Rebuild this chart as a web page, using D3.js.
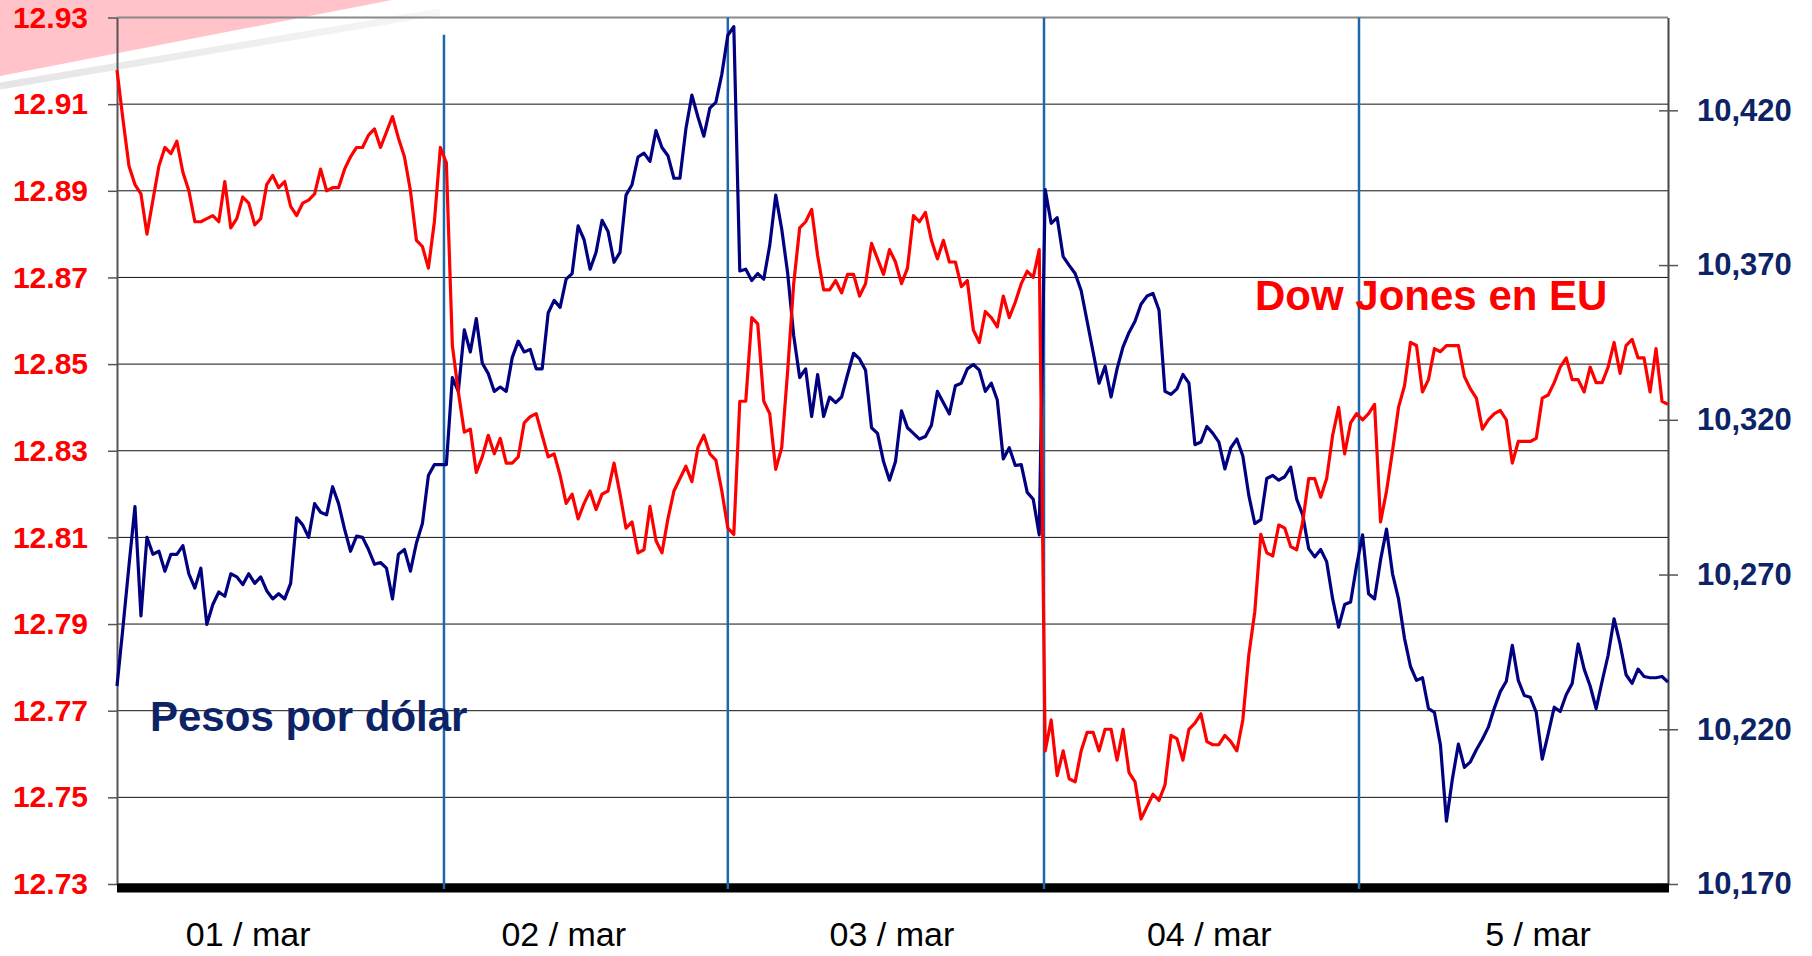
<!DOCTYPE html>
<html><head><meta charset="utf-8">
<script src="https://cdn.jsdelivr.net/npm/d3@7"></script>
<style>
html,body{margin:0;padding:0;background:#fff;}
svg{display:block;font-family:"Liberation Sans",Arial,Helvetica,sans-serif;}
</style>
</head><body>
<svg id="c" width="1812" height="956"></svg>
<script>
// ---- DATA ----
// Pesos por dólar (left axis), intraday samples, 5 trading days
const pesos = [
12.7757,12.7893,12.8035,12.8171,12.7919,12.8100,12.8061,12.8068,12.8022,12.8061,
12.8061,12.8081,12.8016,12.7983,12.8029,12.7899,12.7945,12.7974,12.7964,12.8016,
12.8009,12.7991,12.8016,12.7994,12.8009,12.7977,12.7958,12.7970,12.7958,12.7994,
12.8145,12.8129,12.8100,12.8178,12.8158,12.8152,12.8217,12.8178,12.8119,12.8068,
12.8103,12.8100,12.8072,12.8038,12.8042,12.8029,12.7958,12.8061,12.8072,12.8022,
12.8087,12.8132,12.8243,12.8268,12.8268,12.8268,12.8469,12.8437,12.8579,12.8528,
12.8605,12.8502,12.8478,12.8437,12.8447,12.8437,12.8515,12.8553,12.8528,12.8534,
12.8489,12.8489,12.8618,12.8647,12.8631,12.8696,12.8709,12.8819,12.8787,12.8719,
12.8758,12.8832,12.8806,12.8735,12.8758,12.8890,12.8914,12.8978,12.8987,12.8968,
12.9039,12.9000,12.8981,12.8929,12.8929,12.9043,12.9121,12.9071,12.9026,12.9091,
12.9104,12.9169,12.9259,12.9279,12.8715,12.8719,12.8693,12.8709,12.8696,12.8774,
12.8890,12.8812,12.8709,12.8566,12.8469,12.8489,12.8379,12.8476,12.8379,12.8424,
12.8411,12.8424,12.8476,12.8525,12.8512,12.8486,12.8353,12.8340,12.8275,12.8232,
12.8275,12.8392,12.8353,12.8340,12.8327,12.8333,12.8359,12.8437,12.8411,12.8385,
12.8450,12.8456,12.8489,12.8499,12.8486,12.8437,12.8456,12.8417,12.8281,12.8307,
12.8266,12.8268,12.8204,12.8188,12.8106,12.8903,12.8825,12.8838,12.8748,12.8728,
12.8709,12.8670,12.8599,12.8528,12.8456,12.8495,12.8424,12.8489,12.8540,12.8573,
12.8599,12.8638,12.8657,12.8663,12.8625,12.8437,12.8430,12.8443,12.8476,12.8456,
12.8314,12.8320,12.8356,12.8340,12.8320,12.8258,12.8307,12.8327,12.8288,12.8197,
12.8132,12.8141,12.8236,12.8243,12.8232,12.8240,12.8262,12.8188,12.8152,12.8074,
12.8055,12.8072,12.8044,12.7958,12.7893,12.7945,12.7951,12.8035,12.8106,12.7970,
12.7958,12.8048,12.8119,12.8016,12.7958,12.7867,12.7802,12.7770,12.7776,12.7705,
12.7696,12.7621,12.7445,12.7543,12.7623,12.7569,12.7582,12.7610,12.7634,12.7662,
12.7706,12.7744,12.7768,12.7851,12.7770,12.7735,12.7731,12.7696,12.7588,12.7647,
12.7708,12.7698,12.7737,12.7763,12.7854,12.7796,12.7757,12.7705,12.7768,12.7828,
12.7912,12.7854,12.7783,12.7763,12.7796,12.7779,12.7776,12.7776,12.7779,12.7766
];
// Dow Jones en EU (right axis), same sampling
const dow = [
10433,10417,10402,10396,10393,10380,10391,10402,10408,10406,
10410,10400,10394,10384,10384,10385,10386,10384,10397,10382,
10385,10392,10390,10383,10385,10396,10399,10395,10397,10389,
10386,10390,10391,10393,10401,10394,10395,10395,10401,10405,
10408,10408,10412,10414,10408,10413,10418,10411,10405,10394,
10378,10376,10369,10384,10408,10403,10344,10329,10316,10317,
10303,10308,10315,10309,10314,10306,10306,10308,10319,10321,
10322,10315,10308,10309,10302,10293,10296,10288,10293,10297,
10291,10296,10297,10306,10296,10285,10287,10277,10278,10292,
10281,10277,10288,10297,10301,10305,10300,10311,10315,10309,
10307,10297,10285,10283,10326,10326,10353,10351,10326,10322,
10304,10311,10336,10364,10382,10384,10388,10373,10362,10362,
10365,10361,10367,10367,10360,10364,10377,10372,10367,10375,
10371,10364,10369,10386,10384,10387,10378,10372,10378,10371,
10371,10363,10365,10349,10345,10355,10353,10350,10360,10353,
10358,10364,10368,10366,10375,10213,10223,10205,10213,10204,
10203,10213,10219,10219,10213,10220,10220,10210,10220,10206,
10203,10191,10195,10199,10197,10202,10218,10217,10210,10220,
10222,10225,10216,10215,10215,10218,10216,10213,10223,10244,
10258,10283,10277,10276,10286,10285,10279,10278,10287,10301,
10301,10295,10301,10315,10324,10309,10319,10322,10320,10322,
10325,10287,10297,10310,10324,10331,10345,10344,10329,10333,
10343,10342,10344,10344,10344,10334,10330,10327,10317,10320,
10322,10323,10320,10306,10313,10313,10313,10314,10327,10328,
10332,10337,10340,10333,10333,10329,10337,10332,10332,10337,
10345,10335,10344,10346,10340,10340,10329,10343,10326,10325
];
const leftTicks = [12.73,12.75,12.77,12.79,12.81,12.83,12.85,12.87,12.89,12.91,12.93];
const leftDomain = [12.73,12.93];
const rightTicks = [10170,10220,10270,10320,10370,10420];
const rightDomain = [10170,10450];
const dayLabels = ["01 / mar","02 / mar","03 / mar","04 / mar","5 / mar"];
const dayLabelPos = [21.9,74.6,129.4,182.4,237.3];   // in sample-index units
const dayBreaks = [54.6,102.0,154.8,207.4];           // in sample-index units
const dayBreakTop = [12.926,12.93,12.93,12.93];       // left-axis units
const seriesNames = ["Pesos por dólar","Dow Jones en EU"];

// ---- CHART ----
const m = {l:117, r:1668, t:17.5, b:884};
const svg = d3.select("#c");
const x = d3.scaleLinear().domain([0,pesos.length-1]).range([m.l,m.r]);
const yL = d3.scaleLinear().domain(leftDomain).range([m.b,m.t]);
const yR = d3.scaleLinear().domain(rightDomain).range([m.b,m.t]);

const navy = "#000080", red = "#ff0000", labelNavy = "#0c2466";

// decorative swoosh
const defs = svg.append("defs");
const sg = defs.append("linearGradient").attr("id","sg").attr("x1","0").attr("x2","1").attr("y1","0").attr("y2","0");
sg.append("stop").attr("offset","0").attr("stop-color","#dedede");
sg.append("stop").attr("offset","1").attr("stop-color","#f4f4f4");
svg.append("path").attr("d","M0,0 L392,0 L0,76 Z").attr("fill","#ffc3c9");
svg.append("path").attr("d","M0,86 L440,12").attr("stroke","url(#sg)").attr("stroke-width",7).attr("fill","none").attr("opacity",0.8);

// gridlines
svg.append("g").selectAll("line").data(leftTicks).join("line")
  .attr("x1",m.l).attr("x2",m.r).attr("y1",d=>yL(d)).attr("y2",d=>yL(d))
  .attr("stroke","#111").attr("stroke-width",1);

// top border
svg.append("line").attr("x1",m.l).attr("x2",m.r).attr("y1",m.t).attr("y2",m.t).attr("stroke","#8a8a8a").attr("stroke-width",2);

// left axis
const axL = svg.append("g").attr("transform",`translate(${m.l},0)`)
  .call(d3.axisLeft(yL).tickValues(leftTicks).tickFormat(d3.format(".2f")).tickSize(9).tickSizeOuter(0).tickPadding(20));
axL.select(".domain").attr("stroke","#555").attr("stroke-width",2);
axL.selectAll(".tick line").attr("stroke","#555").attr("stroke-width",1.5);
axL.selectAll(".tick text").attr("fill",red).attr("font-size",30).attr("font-weight","bold")
  .attr("font-family","'Liberation Sans',Arial,sans-serif");

// right axis
const axR = svg.append("g").attr("transform",`translate(${m.r},0)`)
  .call(d3.axisRight(yR).tickValues(rightTicks).tickFormat(d3.format(",")).tickSize(10).tickSizeOuter(0).tickPadding(19));
axR.select(".domain").attr("stroke","#444").attr("stroke-width",2);
axR.selectAll(".tick line").attr("x1",-9).attr("stroke","#555").attr("stroke-width",1.5);
axR.selectAll(".tick text").attr("fill",labelNavy).attr("font-size",31).attr("font-weight","bold")
  .attr("font-family","'Liberation Sans',Arial,sans-serif");

// bottom thick bar
svg.append("line").attr("x1",m.l).attr("x2",m.r+1).attr("y1",m.b+4).attr("y2",m.b+4)
  .attr("stroke","#000").attr("stroke-width",9);

// day labels
svg.append("g").selectAll("text").data(dayLabels).join("text")
  .attr("x",(d,i)=>x(dayLabelPos[i])).attr("y",946).attr("text-anchor","middle")
  .attr("font-size",34).attr("fill","#000").text(d=>d);

// day separators
svg.append("g").selectAll("line").data(dayBreaks).join("line")
  .attr("x1",d=>x(d)).attr("x2",d=>x(d)).attr("y1",(d,i)=>yL(dayBreakTop[i])).attr("y2",m.b+5)
  .attr("stroke","#1c68a8").attr("stroke-width",2.5);

// series
const lineL = d3.line().x((d,i)=>x(i)).y(d=>yL(d));
const lineR = d3.line().x((d,i)=>x(i)).y(d=>yR(d));
svg.append("path").datum(pesos).attr("d",lineL).attr("fill","none").attr("stroke",navy)
  .attr("stroke-width",3.2).attr("stroke-linejoin","round");
svg.append("path").datum(dow).attr("d",lineR).attr("fill","none").attr("stroke",red)
  .attr("stroke-width",3.2).attr("stroke-linejoin","round");

// series labels
svg.append("text").attr("x",150).attr("y",731).attr("font-size",42).attr("font-weight","bold")
  .attr("fill",labelNavy).text(seriesNames[0]);
svg.append("text").attr("x",1255).attr("y",310).attr("font-size",42).attr("font-weight","bold")
  .attr("fill",red).text(seriesNames[1]);
</script>
</body></html>
